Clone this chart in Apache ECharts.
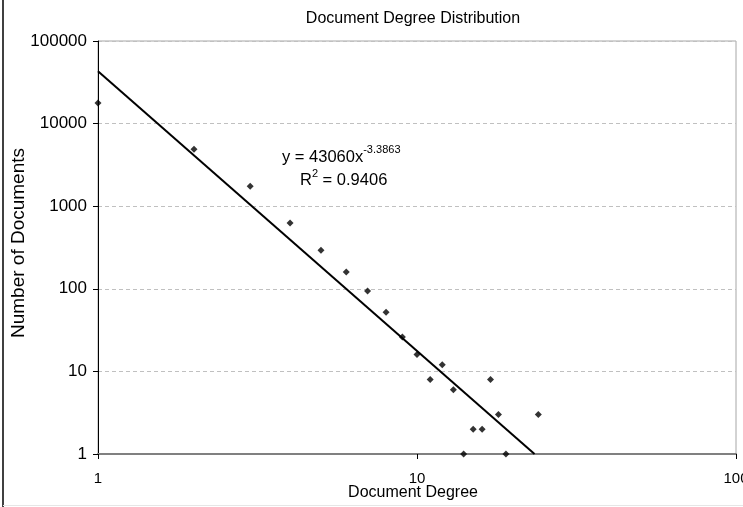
<!DOCTYPE html>
<html>
<head>
<meta charset="utf-8">
<script src="https://cdn.jsdelivr.net/npm/echarts@6/dist/echarts.min.js"></script>
<style>html,body{margin:0;padding:0;background:#fff;}#c{width:743px;height:507px;}</style>
</head>
<body>
<div id="c"></div>
<script>
var degrees = [1, 2, 3, 4, 5, 6, 7, 8, 9, 10, 11, 12, 13, 14, 15, 16, 17, 18, 19, 24];
var docCounts = [17800, 4900, 1750, 626, 292, 160, 94, 52, 26, 16, 8, 12, 6, 1, 2, 2, 8, 3, 1, 3];
var trendX = [1, 23.36];
var trendY = [43060, 1];
var xTicks = [1, 10, 100];
var yTicks = [1, 10, 100, 1000, 10000, 100000];
var xName = 'Document Degree';
var yName = 'Number of Documents';

var FONT = 'Liberation Sans, Arial, sans-serif';
var chart = echarts.init(document.getElementById('c'), null, {renderer: 'canvas'});
var points = degrees.map(function (d, i) { return [d, docCounts[i]]; });
var trend = trendX.map(function (d, i) { return [d, trendY[i]]; });

var ctx = document.createElement('canvas').getContext('2d');
function tw(t, size) { ctx.font = size + 'px ' + FONT; return ctx.measureText(t).width; }

var eqMain = 'y = 43060x', eqSup = '-3.3863';
var r2a = 'R', r2sup = '2', r2b = ' = 0.9406';
var EQ = 16.5, SUP = 11;
var eqX = 282, eqY = 149;
var rX = 300, rY = 172;

chart.setOption({
  backgroundColor: '#ffffff',
  animation: false,
  title: {
    text: 'Document Degree Distribution',
    left: 408, top: 6, textAlign: 'center',
    textStyle: {fontFamily: FONT, fontSize: 16, fontWeight: 'normal', color: '#000'}
  },
  grid: {left: 98, right: 7, top: 41, bottom: 53, containLabel: false, outerBoundsMode: 'none',
    show: true, borderColor: '#a6a6a6', borderWidth: 1, backgroundColor: 'transparent'},
  xAxis: {
    type: 'log', logBase: 10, min: xTicks[0], max: xTicks[xTicks.length - 1],
    axisLine: {show: true, lineStyle: {color: '#808080', width: 2}},
    axisTick: {show: true, inside: false, length: 5, lineStyle: {color: '#000'}},
    axisLabel: {fontFamily: FONT, fontSize: 15, color: '#000', margin: 17, hideOverlap: false,
      formatter: function (v) { return String(v); }},
    splitLine: {show: false},
    minorTick: {show: false}
  },
  yAxis: {
    type: 'log', logBase: 10, min: yTicks[0], max: yTicks[yTicks.length - 1],
    axisLine: {show: true, lineStyle: {color: '#000', width: 1}},
    axisTick: {show: true, inside: false, length: 5, lineStyle: {color: '#000'}},
    axisLabel: {fontFamily: FONT, fontSize: 17, color: '#000', margin: 11,
      formatter: function (v) { return String(v); }},
    splitLine: {show: true, lineStyle: {color: '#c0c0c0', type: [4, 3], width: 1}}
  },
  series: [
    {
      type: 'scatter', data: points, symbol: 'diamond', symbolSize: 7,
      itemStyle: {color: '#000'}, z: 5
    },
    {
      type: 'line', data: trend, showSymbol: false, symbol: 'none',
      lineStyle: {color: '#000', width: 2}, z: 4
    }
  ],
  graphic: [
    {type: 'line', shape: {x1: 3, y1: 0, x2: 3, y2: 507}, style: {stroke: '#000', lineWidth: 1.5}},
    {type: 'line', shape: {x1: 3, y1: 505.5, x2: 743, y2: 505.5}, style: {stroke: '#e6e6e6', lineWidth: 1}},
    {type: 'text', x: 413, y: 493, style: {text: xName, font: '16px ' + FONT, fill: '#000', align: 'center', verticalAlign: 'middle'}},
    {type: 'text', x: 19, y: 243, rotation: Math.PI / 2, style: {text: yName, font: '19px ' + FONT, fill: '#000', align: 'center', verticalAlign: 'middle'}},
    {type: 'text', x: eqX, y: eqY, style: {text: eqMain, font: EQ + 'px ' + FONT, fill: '#000'}},
    {type: 'text', x: eqX + tw(eqMain, EQ), y: eqY - 5, style: {text: eqSup, font: SUP + 'px ' + FONT, fill: '#000'}},
    {type: 'text', x: rX, y: rY, style: {text: r2a, font: EQ + 'px ' + FONT, fill: '#000'}},
    {type: 'text', x: rX + tw(r2a, EQ), y: rY - 4, style: {text: r2sup, font: SUP + 'px ' + FONT, fill: '#000'}},
    {type: 'text', x: rX + tw(r2a, EQ) + tw(r2sup, SUP), y: rY, style: {text: r2b, font: EQ + 'px ' + FONT, fill: '#000'}}
  ]
});
</script>
</body>
</html>
